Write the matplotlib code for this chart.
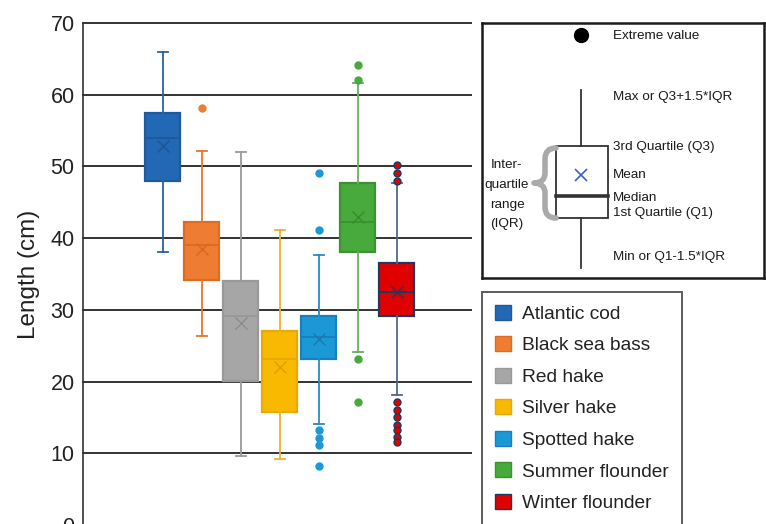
import matplotlib.pyplot as plt
from matplotlib.patches import Patch, Rectangle
from matplotlib.path import Path
from matplotlib.patches import PathPatch

plt.rcParams["font.family"] = ["Liberation Sans", "DejaVu Sans"]

species = ["Atlantic cod", "Black sea bass", "Red hake", "Silver hake",
           "Spotted hake", "Summer flounder", "Winter flounder"]
q1 = [48.0, 34.1, 20.1, 15.7, 23.1, 38.0, 29.1]
median = [54.0, 39.1, 29.1, 23.2, 26.2, 42.2, 32.5]
q3 = [57.5, 42.3, 34.0, 27.1, 29.1, 47.7, 36.5]
mean = [52.9, 38.5, 28.2, 22.1, 26.0, 42.9, 32.5]
whisker_lo = [38.0, 26.3, 9.6, 9.2, 14.1, 24.1, 18.1]
whisker_hi = [66.0, 52.1, 52.0, 41.1, 37.6, 61.7, 47.7]
outliers = [
    [],
    [58.1],
    [],
    [],
    [49.1, 41.2, 13.2, 12.1, 11.2, 8.2],
    [64.2, 62.1, 23.1, 17.1],
    [50.2, 49.1, 48.0, 17.1, 16.0, 15.1, 14.0, 13.2, 12.3, 11.6],
]

face = ["#2268b4", "#ee7d33", "#a6a6a6", "#f8b900", "#1b99d6", "#48a93d", "#e00000"]
edge = ["#1d5a9c", "#e06a1e", "#999999", "#e8a900", "#1a7fbf", "#3c9232", "#1f3a60"]
whisk = ["#2a63a3", "#e8742a", "#9a9a9a", "#f0b030", "#2a8ac0", "#6aae5f", "#4d6a8b"]
mean_col = ["#1d5590", "#d86820", "#8c8c8c", "#e0a000", "#1f77b0", "#3a8a30", "#1f3a60"]

W, H = 766, 524
fig = plt.figure(figsize=(W / 100, H / 100), dpi=100)

# main axes: runs a pixel past the bottom edge so the 0 label is clipped
ax = fig.add_axes([83 / W, (H - 525) / H, (471 - 83) / W, (525 - 23) / H])
ax.set_xlim(-1.05, 8.9)
ax.set_ylim(0, 70)
ax.set_yticks(range(0, 80, 10))
ax.set_xticks([])
ax.tick_params(axis="y", length=0, labelsize=15.5, pad=6, labelcolor="#222222")
ax.yaxis.grid(True, color="#333333", lw=1.4)
for gl in ax.get_ygridlines():
    gl.set_clip_on(False)
ax.set_axisbelow(True)
for s in ["top", "right", "bottom"]:
    ax.spines[s].set_visible(False)
ax.spines["left"].set_color("#333333")
ax.spines["left"].set_linewidth(1.2)
ax.set_ylabel("Length (cm)", fontsize=17.5, color="#222222", labelpad=7.5)

for i in range(len(species)):
    stats = [dict(med=median[i], q1=q1[i], q3=q3[i], whislo=whisker_lo[i],
                  whishi=whisker_hi[i], mean=mean[i], fliers=outliers[i])]
    fc_edge = "#1f3a60" if i == 6 else face[i]
    ax.bxp(stats, positions=[i + 1], widths=0.9, capwidths=0.25,
           patch_artist=True, showmeans=True, manage_ticks=False,
           boxprops=dict(facecolor=face[i], edgecolor=edge[i], lw=1.6),
           medianprops=dict(color=edge[i], lw=1.4),
           whiskerprops=dict(color=whisk[i], lw=1.3),
           capprops=dict(color=whisk[i], lw=1.3),
           meanprops=dict(marker="x", markersize=9, markeredgewidth=1.0,
                          markeredgecolor=mean_col[i]),
           flierprops=dict(marker="o", markersize=5, markerfacecolor=face[i],
                           markeredgecolor=fc_edge, markeredgewidth=1.0))

# species legend
handles = [Patch(facecolor=face[i], edgecolor=edge[i], lw=1.0) for i in range(len(species))]
leg = fig.legend(handles, species, loc="upper left",
                 bbox_to_anchor=(482 / W, 1 - 291.5 / H), fontsize=13.8,
                 frameon=True, fancybox=False, borderpad=0.68,
                 handlelength=0.83, handleheight=0.83, handletextpad=0.59,
                 labelspacing=0.7, borderaxespad=0)
leg.get_frame().set_edgecolor("#333333")
leg.get_frame().set_linewidth(1.4)
for t in leg.get_texts():
    t.set_color("#222222")

# key box explaining the box-plot elements (local pixel units)
ka = fig.add_axes([482 / W, 1 - 278 / H, (764 - 482) / W, (278 - 23) / H])
ka.set_xlim(0, 282)
ka.set_ylim(255, 0)
ka.set_xticks([])
ka.set_yticks([])
for s in ka.spines.values():
    s.set_color("#1a1a1a")
    s.set_linewidth(1.8)

kc = "#333333"
ka.plot([99], [12], "o", color="black", markersize=10)
ka.plot([99, 99], [67, 123], color=kc, lw=1.3)
ka.plot([99, 99], [195, 245], color=kc, lw=1.3)
ka.add_patch(Rectangle((74, 123), 52, 72, facecolor="white", edgecolor=kc, lw=1.3))
ka.plot([74, 126], [173, 173], color=kc, lw=2.6)
ka.plot([99], [152], "x", color="#3a5fcd", markersize=9, markeredgewidth=1.2)

kfs = 9.7
labels_y = [("Extreme value", 13), ("Max or Q3+1.5*IQR", 74), ("3rd Quartile (Q3)", 124),
            ("Mean", 152), ("Median", 175), ("1st Quartile (Q1)", 190),
            ("Min or Q1-1.5*IQR", 234)]
for txt, yy in labels_y:
    ka.text(131, yy, txt, fontsize=kfs, va="center", ha="left", color="#1a1a1a")
for txt, yy in [("Inter-", 142), ("quartile", 162), ("range", 182), ("(IQR)", 201)]:
    ka.text(25, yy, txt, fontsize=kfs, va="center", ha="center", color="#1a1a1a")

# curly brace around the IQR
verts = [(74, 125), (63, 125), (63, 136),
         (63, 150),
         (63, 160), (52, 160),
         (63, 160), (63, 170),
         (63, 184),
         (63, 195), (74, 195)]
codes = [Path.MOVETO, Path.CURVE3, Path.CURVE3,
         Path.LINETO,
         Path.CURVE3, Path.CURVE3,
         Path.CURVE3, Path.CURVE3,
         Path.LINETO,
         Path.CURVE3, Path.CURVE3]
ka.add_patch(PathPatch(Path(verts, codes), facecolor="none", edgecolor="#aaaaaa",
                       lw=4, capstyle="round", joinstyle="round"))

fig.savefig("out.png", dpi=100)
